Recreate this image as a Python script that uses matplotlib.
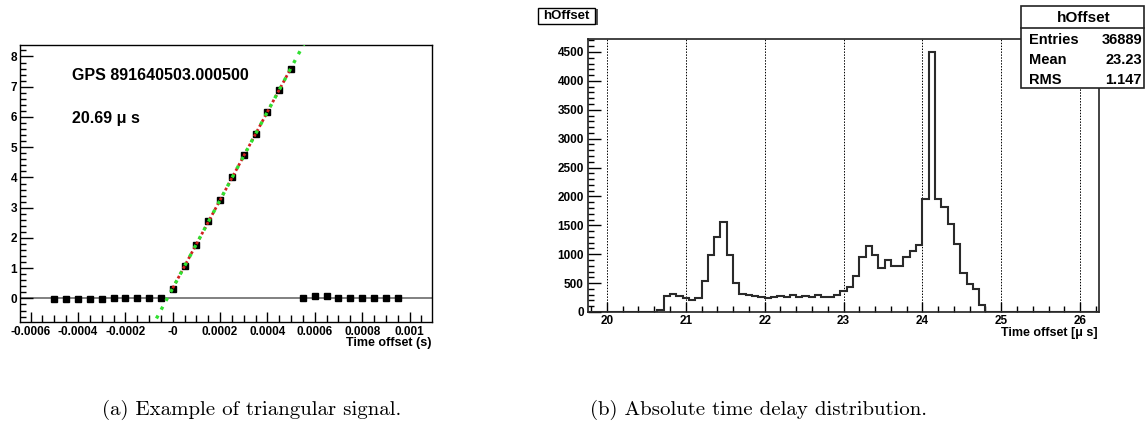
import numpy as np
import matplotlib
matplotlib.use('Agg')
import matplotlib.pyplot as plt
from matplotlib.patches import Rectangle
from matplotlib.lines import Line2D
from matplotlib.ticker import MultipleLocator, FixedLocator, FixedFormatter

# ---------------- data: (a) triangular signal ----------------
t_flat_left = [-0.0005, -0.00045, -0.0004, -0.00035, -0.0003, -0.00025,
               -0.0002, -0.00015, -0.0001, -0.00005]
v_flat_left = [-0.02, -0.02, -0.02, -0.02, -0.02, 0.02, 0.02, 0.02, 0.02, 0.02]
t_ramp = [0.0, 0.00005, 0.0001, 0.00015, 0.0002, 0.00025, 0.0003,
          0.00035, 0.0004, 0.00045, 0.0005]
v_ramp = [0.30, 1.07, 1.78, 2.55, 3.27, 4.02, 4.73, 5.43, 6.16, 6.90, 7.60]
t_flat_right = [0.00055, 0.0006, 0.00065, 0.0007, 0.00075, 0.0008,
                0.00085, 0.0009, 0.00095]
v_flat_right = [0.03, 0.07, 0.07, 0.03, 0.03, 0.03, 0.03, 0.03, 0.03]
left_xticks = [-0.0006, -0.0004, -0.0002, 0.0, 0.0002, 0.0004, 0.0006, 0.0008, 0.001]
left_xticklabels = ['-0.0006', '-0.0004', '-0.0002', '-0', '0.0002', '0.0004',
                    '0.0006', '0.0008', '0.001']
gps_text = 'GPS 891640503.000500'
delay_text = '20.69 \u03bc s'

# ---------------- data: (b) hOffset histogram ----------------
hist_lo, hist_hi, hist_nbins = 19.76, 26.24, 81
hist_counts = [0, 0, 0, 0, 0, 0, 0, 0, 0, 0, 0,
               40, 280, 310, 285, 250, 200, 240, 545, 985, 1300,
               1550, 990, 500, 315, 288, 270, 268, 235, 268, 270,
               262, 298, 268, 270, 265, 288, 262, 265, 300, 357,
               425, 617, 946, 1150, 990, 767, 894, 790, 790, 946,
               1060, 1165, 1950, 4500, 1960, 1817, 1528, 1177, 675, 485,
               398, 120, 0, 0, 0, 0, 0, 0, 0, 0,
               0, 0, 0, 0, 0, 0, 0, 0, 0, 0]
right_xticks = [20, 21, 22, 23, 24, 25, 26]
right_yticks = [0, 500, 1000, 1500, 2000, 2500, 3000, 3500, 4000, 4500]
stats_title = 'hOffset'
stats_names = ['Entries', 'Mean', 'RMS']
stats_values = ['36889', '23.23', '1.147']

captions = ['(a) Example of triangular signal.', '(b) Absolute time delay distribution.']

# ---------------- figure ----------------
W, H = 1145, 432
DPI = 100
plt.rcParams['font.family'] = ['Liberation Sans', 'DejaVu Sans']
plt.rcParams['font.weight'] = 'bold'
fig = plt.figure(figsize=(W / DPI, H / DPI), dpi=DPI)


def fx(px):
    return px / W


def fy(py):
    return 1 - py / H


# ---- left panel ----
L0, L1, T0, B0 = 20, 432, 45, 322
ax1 = fig.add_axes([fx(L0), fy(B0), fx(L1 - L0), (B0 - T0) / H])
ax1.set_xlim(-0.000645, 0.001095)
ax1.set_ylim(-0.78, 8.38)
ax1.axhline(0, color='#808080', lw=1.4, zorder=1)
ms = 4.2
ax1.plot(t_flat_left, v_flat_left, 's', color='black', ms=ms, zorder=3)
ax1.plot(t_flat_right, v_flat_right, 's', color='black', ms=ms, zorder=3)
ax1.plot(t_ramp, v_ramp, 's', color='black', ms=ms, zorder=3)
slope, icpt = np.polyfit(t_ramp, v_ramp, 1)
xr = np.array([t_ramp[0], t_ramp[-1]])
xg = np.array(ax1.get_xlim())
ax1.plot(xr, slope * xr + icpt, color='#d02020', lw=2.0, ls=(0, (1, 1.0)), zorder=4)
ax1.plot(xg, slope * xg + icpt, color='#30e030', lw=2.4, ls=(0, (1, 2.0)), zorder=5)
ax1.xaxis.set_major_locator(FixedLocator(left_xticks))
ax1.xaxis.set_major_formatter(FixedFormatter(left_xticklabels))
ax1.xaxis.set_minor_locator(MultipleLocator(0.00005))
ax1.yaxis.set_major_locator(MultipleLocator(1))
ax1.yaxis.set_minor_locator(MultipleLocator(0.2))
ax1.tick_params(which='both', direction='in', top=False, right=False, width=1.0,
                labelsize=8.5, colors='black')
ax1.tick_params(axis='x', which='major', length=7, pad=3)
ax1.tick_params(axis='x', which='minor', length=5)
ax1.tick_params(axis='y', which='major', length=9, pad=2)
ax1.tick_params(axis='y', which='minor', length=4.5)
for lab in ax1.get_xticklabels() + ax1.get_yticklabels():
    lab.set_fontweight('bold')
for sp in ax1.spines.values():
    sp.set_linewidth(1.0)
ax1.text(fx(72), fy(75), gps_text, transform=fig.transFigure, fontsize=11.5,
         fontweight='bold', ha='left', va='center')
ax1.text(fx(72), fy(118), delay_text, transform=fig.transFigure, fontsize=11.5,
         fontweight='bold', ha='left', va='center')
fig.text(fx(432), fy(343), 'Time offset (s)', fontsize=9, fontweight='bold',
         ha='right', va='center')

# ---- right panel ----
R0, R1, RT, RB = 588, 1099, 39, 312
ax2 = fig.add_axes([fx(R0), fy(RB), fx(R1 - R0), (RB - RT) / H])
edges = np.linspace(hist_lo, hist_hi, hist_nbins + 1)
ax2.stairs(hist_counts, edges, color='#2a2a2a', lw=1.5, baseline=0, zorder=3)
ax2.set_xlim(hist_lo, hist_hi)
ax2.set_ylim(0, 4725)
ax2.xaxis.set_major_locator(FixedLocator(right_xticks))
ax2.xaxis.set_minor_locator(MultipleLocator(0.2))
ax2.yaxis.set_major_locator(FixedLocator(right_yticks))
ax2.yaxis.set_minor_locator(MultipleLocator(100))
ax2.grid(axis='x', which='major', color='black', lw=0.7, ls=(0, (1.5, 1.5)), zorder=1)
ax2.tick_params(which='both', direction='in', top=False, right=False, width=1.0,
                labelsize=8.5, colors='black')
ax2.tick_params(axis='x', which='major', length=7, pad=2)
ax2.tick_params(axis='x', which='minor', length=4)
ax2.tick_params(axis='y', which='major', length=9, pad=3)
ax2.tick_params(axis='y', which='minor', length=4.5)
for lab in ax2.get_xticklabels() + ax2.get_yticklabels():
    lab.set_fontweight('bold')
for sp in ax2.spines.values():
    sp.set_linewidth(1.2)
    sp.set_color('#222222')
fig.text(fx(1098), fy(333), 'Time offset [\u03bc s]', fontsize=9, fontweight='bold',
         ha='right', va='center')

# title box "hOffset"
fig.patches.append(Rectangle((fx(540), fy(25)), fx(58), 16 / H, transform=fig.transFigure,
                             facecolor='#555555', edgecolor='none', zorder=5))
fig.patches.append(Rectangle((fx(538), fy(24)), fx(57), 16 / H, transform=fig.transFigure,
                             facecolor='white', edgecolor='black', lw=1.0, zorder=6))
fig.text(fx(566.5), fy(16), stats_title, fontsize=9.5, fontweight='bold',
         ha='center', va='center', zorder=7)

# stats box
SX0, SX1, SY0, SY1 = 1021, 1144, 6.5, 88
fig.patches.append(Rectangle((fx(SX0), fy(SY1)), fx(SX1 - SX0), (SY1 - SY0) / H,
                             transform=fig.transFigure, facecolor='white',
                             edgecolor='#222222', lw=1.2, zorder=6))
fig.lines.append(Line2D([fx(SX0), fx(SX1)], [fy(27.5), fy(27.5)], transform=fig.transFigure,
                        color='#222222', lw=1.2, zorder=7))
fig.text(fx(1084), fy(18), stats_title, fontsize=11, fontweight='bold',
         ha='center', va='center', zorder=8)
for i, (nm, val) in enumerate(zip(stats_names, stats_values)):
    yy = 39.5 + i * 20.3
    fig.text(fx(1029), fy(yy), nm, fontsize=10.5, fontweight='bold',
             ha='left', va='center', zorder=8)
    fig.text(fx(1142), fy(yy), val, fontsize=10.5, fontweight='bold',
             ha='right', va='center', zorder=8)

# captions
fig.text(fx(252), fy(410), captions[0], family='cmr10', fontweight='normal',
         fontsize=15, ha='center', va='center')
fig.text(fx(759), fy(410), captions[1], family='cmr10', fontweight='normal',
         fontsize=15, ha='center', va='center')

fig.savefig('out.png', dpi=DPI)
